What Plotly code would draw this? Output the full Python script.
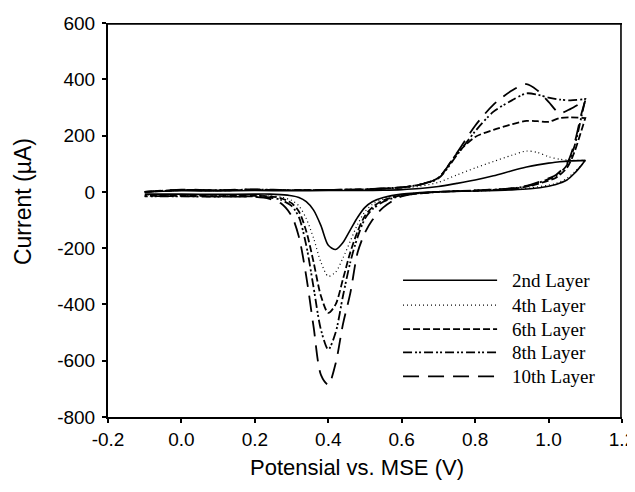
import plotly.graph_objects as go

# ---------------- data ----------------
layers = ["2nd Layer", "4th Layer", "6th Layer", "8th Layer", "10th Layer"]

# forward (anodic) scan potentials, V vs MSE
potential_fwd = [-0.1, 0.0, 0.1, 0.2, 0.3, 0.4, 0.5, 0.55, 0.6, 0.65, 0.7,
                 0.75, 0.8, 0.85, 0.9, 0.94, 0.97, 1.0, 1.03, 1.06, 1.1]
# reverse (cathodic) scan potentials
potential_rev = [1.1, 1.09, 1.07, 1.05, 1.02, 1.0, 0.95, 0.9, 0.8, 0.7, 0.6,
                 0.55, 0.52, 0.50, 0.48, 0.46, 0.44, 0.42, 0.40, 0.38, 0.36,
                 0.34, 0.32, 0.30, 0.27, 0.24, 0.2, 0.1, 0.0, -0.1]

# currents (uA), forward scan
i_fwd_2nd = [0, 4, 3, 5, 4, 5, 5, 6, 8, 12, 19, 30, 42, 57, 75, 88, 96, 102, 107, 110, 112]
i_fwd_4th = [0, 5, 4, 6, 5, 6, 8, 10, 14, 20, 34, 60, 85, 108, 130, 145, 140, 125, 116, 112, 112]
i_fwd_6th = [0, 6, 5, 7, 6, 7, 9, 12, 16, 26, 50, 135, 195, 220, 240, 252, 251, 249, 262, 265, 262]
i_fwd_8th = [0, 7, 6, 8, 6, 7, 9, 12, 16, 26, 48, 130, 215, 285, 325, 350, 345, 335, 328, 325, 330]
i_fwd_10th = [0, 8, 6, 9, 6, 7, 9, 12, 16, 26, 50, 138, 235, 310, 360, 383, 360, 320, 280, 295, 325]

# currents (uA), reverse scan
i_rev_2nd = [112, 95, 65, 42, 26, 20, 11, 7, 3, 0, -8, -20, -35, -55, -90, -135,
             -180, -205, -190, -120, -65, -35, -20, -14, -10, -8, -8, -9, -8, -8]
i_rev_4th = [112, 95, 70, 48, 30, 24, 14, 8, 3, 0, -10, -25, -45, -70, -115, -175,
             -235, -285, -300, -250, -165, -95, -50, -30, -18, -14, -12, -13, -12, -12]
i_rev_6th = [262, 220, 140, 85, 50, 40, 21, 11, 4, 0, -12, -30, -55, -85, -140, -215,
             -310, -400, -430, -370, -250, -140, -70, -40, -22, -16, -14, -15, -14, -14]
i_rev_8th = [330, 270, 160, 95, 55, 45, 23, 12, 5, 0, -14, -35, -62, -95, -160, -250,
             -370, -500, -560, -490, -340, -190, -90, -50, -28, -20, -16, -17, -16, -16]
i_rev_10th = [325, 280, 170, 100, 60, 48, 25, 13, 5, 0, -16, -55, -100, -145, -215, -360,
              -470, -610, -685, -650, -480, -300, -160, -85, -40, -25, -18, -17, -15, -15]

forward = [i_fwd_2nd, i_fwd_4th, i_fwd_6th, i_fwd_8th, i_fwd_10th]
reverse = [i_rev_2nd, i_rev_4th, i_rev_6th, i_rev_8th, i_rev_10th]

x_tickvals = [-0.2, 0.0, 0.2, 0.4, 0.6, 0.8, 1.0, 1.2]
x_ticktext = ["-0.2", "0.0", "0.2", "0.4", "0.6", "0.8", "1.0", "1.2"]
y_tickvals = [-800, -600, -400, -200, 0, 200, 400, 600]
y_ticktext = ["-800", "-600", "-400", "-200", "0", "200", "400", "600"]

x_title = "Potensial vs. MSE (V)"
y_title = "Current (µA)"

# ---------------- styles ----------------
dashes = ["solid", "1px,3px", "7px,3px", "9px,3px,2px,2px,2px,3px", "16px,9px"]
widths = [1.6, 1.2, 1.8, 1.8, 1.8]
sans = "Liberation Sans, Arial, sans-serif"
serif = "Liberation Serif, Times New Roman, serif"

fig = go.Figure()
for name, fw, rv, dash, w in zip(layers, forward, reverse, dashes, widths):
    fig.add_trace(go.Scatter(
        x=potential_fwd + potential_rev,
        y=fw + rv,
        mode="lines",
        name=name,
        line=dict(color="black", width=w, dash=dash, shape="spline", smoothing=0.8),
        showlegend=False,
    ))

# custom legend (long line samples like the original)
leg_y = [0.347, 0.284, 0.223, 0.164, 0.103]
for name, dash, w, yy in zip(layers, dashes, widths, leg_y):
    fig.add_shape(type="line", xref="paper", yref="paper",
                  x0=0.574, x1=0.757, y0=yy, y1=yy,
                  line=dict(color="black", width=w, dash=dash))
    fig.add_annotation(xref="paper", yref="paper", x=0.783, y=yy,
                       text=name, showarrow=False, xanchor="left", yanchor="middle",
                       font=dict(family=serif, size=19, color="black"))

# top and right sides of the plot frame, as plain line shapes
fig.add_shape(type="line", xref="paper", yref="paper", x0=0, x1=1, y0=0.998, y1=0.998,
              line=dict(color="black", width=1.8))
fig.add_shape(type="line", xref="paper", yref="paper", x0=0.998, x1=0.998, y0=0, y1=1,
              line=dict(color="black", width=1.6))

# axis titles
fig.add_annotation(xref="paper", yref="paper", x=0.485, y=-0.129, text=x_title,
                   showarrow=False, xanchor="center", yanchor="middle",
                   font=dict(family=sans, size=22, color="black"))
fig.add_annotation(xref="paper", yref="paper", x=-0.165, y=0.546, text=y_title,
                   textangle=-90, showarrow=False, xanchor="center", yanchor="middle",
                   font=dict(family=sans, size=23, color="black"))

axis_font = dict(family=sans, size=19, color="black")
fig.update_xaxes(
    range=[-0.2, 1.2], tickvals=x_tickvals, ticktext=x_ticktext,
    showgrid=False, zeroline=False, automargin=False,
    showline=True, linecolor="black", linewidth=2,
    ticks="outside", ticklen=4, tickwidth=1.5, tickcolor="black",
    tickfont=axis_font, ticklabeloverflow="allow",
)
fig.update_yaxes(
    range=[-800, 600], tickvals=y_tickvals, ticktext=y_ticktext,
    showgrid=False, zeroline=False, automargin=False,
    showline=True, linecolor="black", linewidth=2,
    ticks="outside", ticklen=4, tickwidth=1.5, tickcolor="black",
    tickfont=axis_font, ticklabelstandoff=3,
)
# the page body has an 8 px margin; size the figure so it fits the window without scrollbars
fig.update_layout(
    width=627, height=476,
    margin=dict(l=100, r=13, t=15, b=67),
    paper_bgcolor="white", plot_bgcolor="white",
)
fig.write_html("out.html")
